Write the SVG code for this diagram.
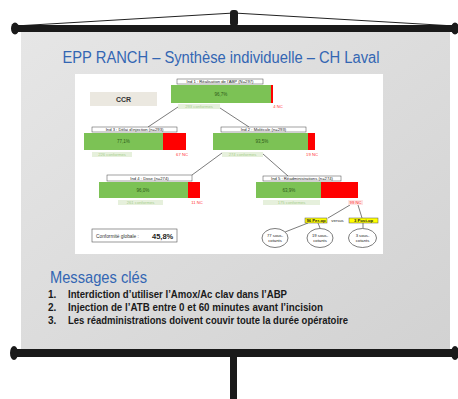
<svg xmlns="http://www.w3.org/2000/svg" width="458" height="399" viewBox="0 0 458 399">
<defs>
<linearGradient id="scr" x1="0" y1="0" x2="1" y2="1">
<stop offset="0" stop-color="#e6e6e6"/>
<stop offset="0.5" stop-color="#dcdcdc"/>
<stop offset="1" stop-color="#d2d2d2"/>
</linearGradient>
<style>
.bar{fill:#1a1a1a}
.lbl{fill:#fff;stroke:#444;stroke-width:0.5}
.lt{font-family:"Liberation Sans",Arial,sans-serif;font-size:4.2px;fill:#222;text-anchor:middle}
.g{fill:#7cc255}
.r{fill:#ff0000}
.cf{fill:#e6f0dc}
.cft{font-family:"Liberation Sans",Arial,sans-serif;font-size:4.2px;fill:#a8cf8e;text-anchor:middle}
.nc{font-family:"Liberation Sans",Arial,sans-serif;font-size:4.2px;fill:#ff3030;text-anchor:middle}
.pct{font-family:"Liberation Sans",Arial,sans-serif;font-size:4.5px;fill:#2d5a1a;text-anchor:middle}
.con{stroke:#444;stroke-width:0.7;fill:none}
.msg{font-family:"Liberation Sans",Arial,sans-serif;font-size:10px;font-weight:bold;fill:#1a1a1a}
.ov{fill:#fff;stroke:#444;stroke-width:0.7}
.yl{fill:#ffff00;stroke:#555;stroke-width:0.5}
</style>
</defs>
<rect width="458" height="399" fill="#fff"/>
<!-- screen -->
<rect x="21" y="31" width="429" height="318" fill="url(#scr)"/>
<!-- top rig -->
<line x1="15" y1="26" x2="234" y2="13" stroke="#222" stroke-width="1"/>
<line x1="455" y1="26" x2="234" y2="13" stroke="#222" stroke-width="1"/>
<rect x="12" y="25" width="446" height="7" class="bar"/>
<ellipse cx="15" cy="28.5" rx="4" ry="6" class="bar"/>
<ellipse cx="455" cy="28.5" rx="4" ry="6" class="bar"/>
<rect x="230" y="10" width="8" height="16" rx="3" class="bar"/>
<!-- bottom rig -->
<rect x="12" y="349" width="446" height="8" class="bar"/>
<ellipse cx="14" cy="353" rx="4" ry="7" class="bar"/>
<ellipse cx="455" cy="353" rx="4" ry="7" class="bar"/>
<rect x="230" y="354" width="7" height="45" class="bar"/>
<!-- title -->
<text x="221" y="63" text-anchor="middle" font-family="Liberation Sans, Arial, sans-serif" font-size="16" fill="#3366b3" textLength="317" lengthAdjust="spacingAndGlyphs">EPP RANCH – Synthèse individuelle – CH Laval</text>
<!-- chart area -->
<rect x="75" y="74" width="308" height="180" fill="#fff"/>
<g id="ccr">
<rect x="90" y="92" width="67" height="14" fill="#ebe8e0"/>
<text x="123.5" y="102" text-anchor="middle" font-family="Liberation Sans, Arial, sans-serif" font-size="7" font-weight="bold" fill="#333">CCR</text>
</g>
<g id="connectors">
<line class="con" x1="178" y1="107" x2="148" y2="127"/>
<line class="con" x1="220" y1="108" x2="249" y2="127"/>
<line class="con" x1="222" y1="153" x2="192" y2="175"/>
<line class="con" x1="263" y1="154" x2="288" y2="176"/>
<line class="con" x1="350" y1="205" x2="328" y2="218"/>
<line class="con" x1="358" y1="205" x2="362" y2="218"/>
<line class="con" x1="308" y1="223" x2="285" y2="232"/>
<line class="con" x1="318" y1="223" x2="320" y2="228"/>
<line class="con" x1="363" y1="223" x2="363" y2="228"/>
</g>
<g id="ind1">
<rect x="177" y="79" width="86" height="5" class="lbl"/>
<text x="220" y="83" class="lt">Ind 1 : Réalisation de l'ABP (N=297)</text>
<rect x="171" y="85" width="100" height="18" class="g"/>
<rect x="271" y="85" width="2" height="18" class="r"/>
<text x="221" y="95.5" class="pct">96,7%</text>
<rect x="178" y="104" width="42" height="5" class="cf"/>
<text x="199" y="108" class="cft">293 conformes</text>
<text x="278" y="108" class="nc">4 NC</text>
</g>
<g id="ind3">
<rect x="92" y="127" width="85" height="5" class="lbl"/>
<text x="134.5" y="131" class="lt">Ind 3 : Délai d'injection (n=293)</text>
<rect x="84" y="133" width="79" height="17" class="g"/>
<rect x="163" y="133" width="23" height="17" class="r"/>
<text x="123.5" y="143" class="pct">77,1%</text>
<rect x="92" y="152" width="40" height="5" class="cf"/>
<text x="112" y="156" class="cft">226 conformes</text>
<text x="182" y="156" class="nc">67 NC</text>
</g>
<g id="ind2">
<rect x="221" y="127" width="85" height="5" class="lbl"/>
<text x="263.5" y="131" class="lt">Ind 2 : Molécule (n=293)</text>
<rect x="213" y="133" width="95" height="17" class="g"/>
<rect x="308" y="133" width="7" height="17" class="r"/>
<text x="262" y="143" class="pct">93,5%</text>
<rect x="222" y="152" width="41" height="5" class="cf"/>
<text x="242.5" y="156" class="cft">274 conformes</text>
<text x="312" y="156" class="nc">19 NC</text>
</g>
<g id="ind4">
<rect x="107" y="175" width="85" height="6" class="lbl"/>
<text x="149.5" y="179.5" class="lt">Ind 4 : Dose (n=274)</text>
<rect x="99" y="182" width="89" height="16" class="g"/>
<rect x="188" y="182" width="12" height="16" class="r"/>
<text x="143" y="191.5" class="pct">96,0%</text>
<rect x="118" y="200" width="45" height="5" class="cf"/>
<text x="140.5" y="204" class="cft">261 conformes</text>
<text x="197" y="204" class="nc">11 NC</text>
</g>
<g id="ind5">
<rect x="263" y="176" width="78" height="5" class="lbl"/>
<text x="302" y="180" class="lt">Ind 5 : Réadministrations (n=274)</text>
<rect x="256" y="182" width="65" height="16" class="g"/>
<rect x="321" y="182" width="37" height="16" class="r"/>
<text x="289" y="191.5" class="pct">63,9%</text>
<rect x="263" y="200" width="57" height="5" class="cf"/>
<text x="291.5" y="204" class="cft">175 conformes</text>
<rect x="348" y="200" width="15" height="5" fill="#fde4e4"/>
<text x="355.5" y="204" class="nc">99 NC</text>
</g>
<g id="perop">
<rect x="305" y="218" width="22" height="5" class="yl"/>
<text x="316" y="222" class="lt" font-weight="bold">96 Per-op</text>
</g>
<text x="337.5" y="222" class="lt" fill="#666">versus</text>
<g id="postop">
<rect x="349" y="218" width="29" height="5" class="yl"/>
<text x="363.5" y="222" class="lt" font-weight="bold">3 Post-op</text>
</g>
<g id="ov1">
<ellipse cx="275" cy="238" rx="13" ry="9.5" class="ov"/>
<text x="275" y="237" class="lt">77 sous-</text>
<text x="275" y="242" class="lt">cotants</text>
</g>
<g id="ov2">
<ellipse cx="320" cy="238" rx="13" ry="9.5" class="ov"/>
<text x="320" y="237" class="lt">19 sous-</text>
<text x="320" y="242" class="lt">cotants</text>
</g>
<g id="ov3">
<ellipse cx="362.5" cy="238" rx="14" ry="9.5" class="ov"/>
<text x="362.5" y="237" class="lt">3 sous-</text>
<text x="362.5" y="242" class="lt">cotants</text>
</g>
<g id="global">
<rect x="92" y="229" width="85" height="13" fill="#fff" stroke="#555" stroke-width="0.6"/>
<text x="96" y="237.5" font-family="Liberation Sans, Arial, sans-serif" font-size="4.8" fill="#333">Conformité globale :</text>
<text x="152" y="238.5" font-family="Liberation Sans, Arial, sans-serif" font-size="7.5" font-weight="bold" fill="#222">45,8%</text>
</g>
<!-- messages -->
<text x="50" y="283" font-family="Liberation Sans, Arial, sans-serif" font-size="17" fill="#3366b3" textLength="97" lengthAdjust="spacingAndGlyphs">Messages clés</text>
<text x="48" y="298" class="msg">1.</text>
<text x="68" y="298" class="msg" textLength="219" lengthAdjust="spacingAndGlyphs">Interdiction d’utiliser l’Amox/Ac clav dans l’ABP</text>
<text x="48" y="311" class="msg">2.</text>
<text x="68" y="311" class="msg" textLength="255" lengthAdjust="spacingAndGlyphs">Injection de l’ATB entre 0 et 60 minutes avant l’incision</text>
<text x="48" y="324" class="msg">3.</text>
<text x="68" y="324" class="msg" textLength="280" lengthAdjust="spacingAndGlyphs">Les réadministrations doivent couvir toute la durée opératoire</text>
</svg>
